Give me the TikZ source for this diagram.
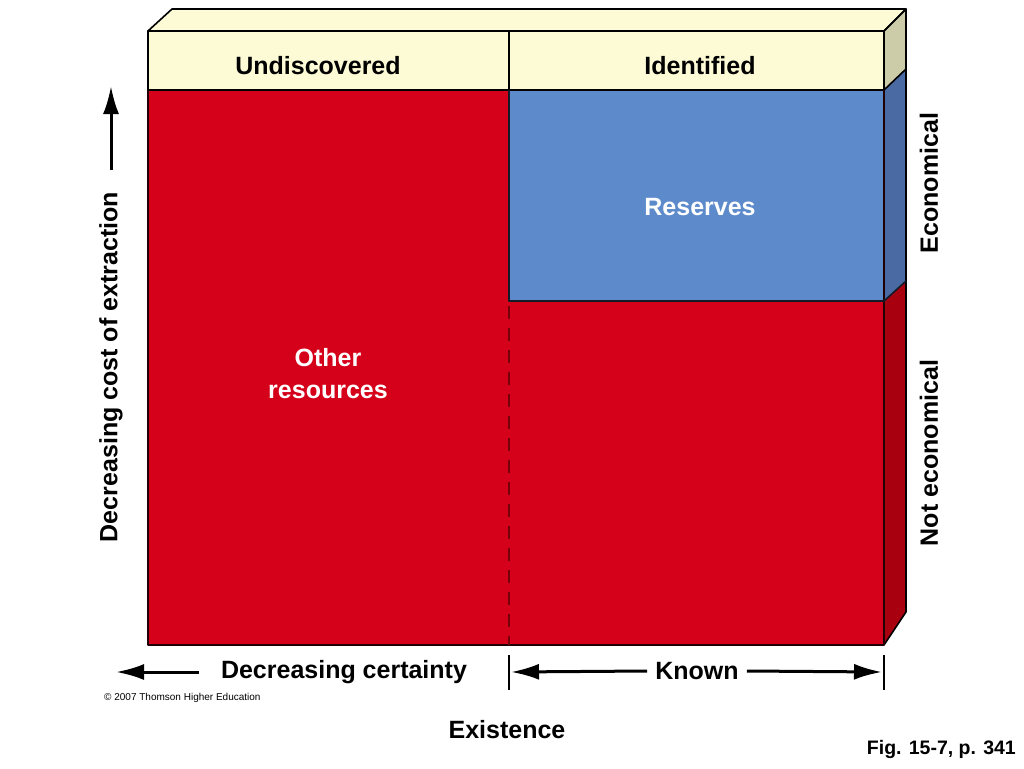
\documentclass[tikz,border=0pt]{standalone}
\usepackage{fontspec}
\setmainfont{Liberation Sans}
\usetikzlibrary{arrows.meta}
\definecolor{cream}{HTML}{FDFBD6}
\definecolor{creamside}{HTML}{CDCCA8}
\definecolor{bred}{HTML}{D50019}
\definecolor{bredside}{HTML}{A8000F}
\definecolor{bblue}{HTML}{5C8ACB}
\definecolor{bblueside}{HTML}{4A6AA3}
\tikzset{
  edge/.style={draw=black,line width=1.6pt,line join=round},
  lbl/.style={font=\bfseries\fontsize{25}{28}\selectfont,inner sep=0pt},
  wlbl/.style={lbl,text=white,align=center},
  arr/.style={line width=3pt,-{Latex[length=28pt,width=16pt]}},
  tick/.style={line width=1.4pt}
}
\begin{document}
\begin{tikzpicture}[x=1pt,y=-1pt]
\useasboundingbox[fill=white] (0,0) rectangle (1024,768);
% front faces
\fill[cream] (148,31) rectangle (884,90);
\fill[bred] (148,90) rectangle (509,645);
\fill[bblue] (509,90) rectangle (884,301);
\fill[bred] (509,301) rectangle (884,645);
% top face
\fill[cream] (148,31) -- (172,9) -- (906,9) -- (884,31) -- cycle;
% right faces
\fill[creamside] (884,31) -- (906,9) -- (906,69) -- (884,90) -- cycle;
\fill[bblueside] (884,90) -- (906,69) -- (906,281) -- (884,301) -- cycle;
\fill[bredside] (884,301) -- (906,281) -- (906,612) -- (884,645) -- cycle;
% edges
\draw[edge] (148,31) -- (172,9) -- (906,9) -- (884,31) -- cycle;
\draw[edge] (148,31) rectangle (884,90);
\draw[edge] (509,31) -- (509,90);
\draw[edge] (884,31) -- (906,9) -- (906,612) -- (884,645);
\draw[edge] (884,90) -- (906,69);
\draw[edge,draw=black!85!bred] (148,90) -- (148,645) -- (884,645) -- (884,90);
\draw[edge,draw=black!80!bblue] (509,90) -- (509,301) -- (884,301) -- (906,281);
\draw[line width=1.8pt,draw=bredside!70!black,dash pattern=on 13pt off 9pt] (509,306) -- (509,645);
% labels
\node[lbl] (undisc) at (318,66) {Undiscovered};
\node[lbl] (ident) at (700,66) {Identified};
\node[wlbl] (reserves) at (700,207) {Reserves};
\node[wlbl] (other) at (328,374) {Other\\[4pt]resources};
\node[lbl,rotate=90] (econ) at (929,183) {Economical};
\node[lbl,rotate=90] (notecon) at (929,453) {Not economical};
\node[lbl,rotate=90] (cost) at (111,367) {Decreasing cost of extraction};
\node[lbl] (certainty) at (344,672) {Decreasing certainty};
\node[lbl] (known) at (697,671) {Known};
\node[lbl] (exist) at (507,730) {Existence};
\node[font=\fontsize{10}{12}\selectfont,anchor=west,inner sep=0pt] (copy) at (104,698) {\textcopyright{} 2007 Thomson Higher Education};
\node[font=\bfseries\fontsize{19.5}{22}\selectfont,anchor=east,inner sep=0pt] (fig) at (1016,749) {Fig. 15-7, p. 341};
% arrows
\coordinate (upS) at (111,170);
\coordinate (upE) at (111,86);
\draw[arr] (upS) -- (upE);
\coordinate (lS) at (199,672);
\coordinate (lE) at (116,672);
\draw[arr] (lS) -- (lE);
\coordinate (t1a) at (509,655);
\coordinate (t1b) at (509,690);
\coordinate (t2a) at (884,655);
\coordinate (t2b) at (884,690);
\draw[tick] (t1a) -- (t1b);
\draw[tick] (t2a) -- (t2b);
\coordinate (kL) at (511,672);
\coordinate (kR) at (882,672);
\draw[arr] (known.west) ++(-8,0) -- (kL);
\draw[arr] (known.east) ++(8,0) -- (kR);
\end{tikzpicture}
\end{document}
